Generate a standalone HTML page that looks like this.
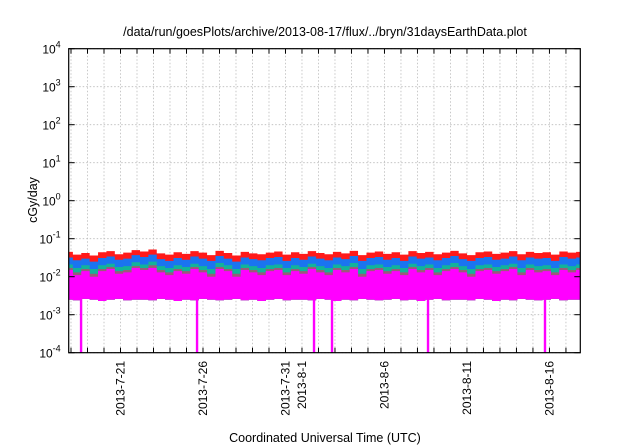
<!DOCTYPE html>
<html><head><meta charset="utf-8"><style>
body{margin:0;background:#fff;}
svg{display:block;font-family:"Liberation Sans",sans-serif;}
</style></head><body>
<svg id="chart" width="640" height="448"></svg>
<script>
// data (day offsets relative to 2013-7-21, half-day samples)
const startDay = -3.14, endDay = 27.87;
const redTop = [0.045,0.038,0.042,0.036,0.044,0.047,0.039,0.043,0.05,0.046,0.052,0.041,0.038,0.044,0.04,0.047,0.043,0.037,0.048,0.042,0.036,0.045,0.041,0.039,0.043,0.046,0.038,0.044,0.04,0.047,0.042,0.039,0.045,0.041,0.048,0.037,0.043,0.046,0.04,0.044,0.038,0.047,0.042,0.045,0.039,0.043,0.048,0.041,0.037,0.044,0.046,0.04,0.043,0.047,0.039,0.045,0.042,0.044,0.038,0.046,0.043,0.045];
const blueTop = [0.032,0.027,0.03,0.025,0.031,0.034,0.028,0.03,0.037,0.033,0.038,0.029,0.026,0.031,0.028,0.034,0.03,0.026,0.035,0.03,0.025,0.032,0.029,0.027,0.031,0.033,0.026,0.031,0.028,0.034,0.03,0.027,0.032,0.029,0.035,0.026,0.031,0.033,0.028,0.031,0.026,0.034,0.03,0.032,0.027,0.031,0.035,0.029,0.026,0.031,0.033,0.028,0.03,0.034,0.027,0.032,0.03,0.031,0.026,0.033,0.03,0.032];
const tealTop = [0.021,0.017,0.02,0.016,0.02,0.022,0.018,0.019,0.024,0.021,0.025,0.019,0.017,0.02,0.018,0.022,0.019,0.016,0.023,0.02,0.016,0.021,0.019,0.017,0.02,0.021,0.017,0.02,0.018,0.022,0.019,0.017,0.021,0.019,0.023,0.016,0.02,0.021,0.018,0.02,0.017,0.022,0.019,0.021,0.017,0.02,0.023,0.019,0.016,0.02,0.021,0.018,0.02,0.022,0.017,0.021,0.019,0.02,0.017,0.021,0.019,0.021];
const brownTop = [0.017,0.013,0.016,0.012,0.016,0.018,0.014,0.015,0.019,0.017,0.02,0.015,0.013,0.016,0.014,0.018,0.015,0.012,0.018,0.016,0.012,0.017,0.015,0.013,0.016,0.017,0.013,0.016,0.014,0.018,0.015,0.013,0.017,0.015,0.018,0.012,0.016,0.017,0.014,0.016,0.013,0.018,0.015,0.017,0.013,0.016,0.018,0.015,0.012,0.016,0.017,0.014,0.016,0.018,0.013,0.017,0.015,0.016,0.013,0.017,0.015,0.017];
const magentaTop = [0.015,0.011,0.014,0.01,0.014,0.016,0.012,0.013,0.017,0.015,0.017,0.013,0.011,0.014,0.012,0.016,0.013,0.01,0.016,0.014,0.01,0.015,0.013,0.011,0.014,0.015,0.011,0.014,0.012,0.016,0.013,0.011,0.015,0.013,0.016,0.01,0.014,0.015,0.012,0.014,0.011,0.016,0.013,0.015,0.011,0.014,0.016,0.013,0.01,0.014,0.015,0.012,0.014,0.016,0.011,0.015,0.013,0.014,0.011,0.015,0.013,0.015];
const magentaFloor = [0.0025,0.0024,0.0026,0.0025,0.0023,0.0025,0.0026,0.0024,0.0025,0.0025,0.0024,0.0026,0.0025,0.0023,0.0025,0.0024,0.0026,0.0025,0.0024,0.0025,0.0026,0.0024,0.0025,0.0023,0.0025,0.0026,0.0024,0.0025,0.0025,0.0024,0.0026,0.0025,0.0023,0.0025,0.0024,0.0026,0.0025,0.0024,0.0025,0.0026,0.0024,0.0025,0.0023,0.0025,0.0026,0.0024,0.0025,0.0025,0.0024,0.0026,0.0025,0.0023,0.0025,0.0024,0.0026,0.0025,0.0024,0.0025,0.0026,0.0024,0.0025,0.0025];
const dropoutDays = [-2.39,4.64,11.73,12.82,18.64,25.73];
const yTickExp = [-4,-3,-2,-1,0,1,2,3,4];
const xTickLabels = ["2013-7-21","2013-7-26","2013-7-31","2013-8-1","2013-8-6","2013-8-11","2013-8-16"];
const xTickDays = [0,5,10,11,16,21,26];

const L=68.7,R=580.3,T=48.7,B=352.7;
const xs=d=>L+(d-startDay)/(endDay-startDay)*(R-L);
const ys=v=>B-(Math.log10(v)+4)/8*(B-T);
const svg=document.getElementById('chart');
const NS='http://www.w3.org/2000/svg';
function mk(tag,attrs,parent){const e=document.createElementNS(NS,tag);for(const k in attrs)e.setAttribute(k,attrs[k]);(parent||svg).appendChild(e);return e;}

// grid
const grid=mk('g',{});


for(let d=Math.ceil(startDay);d<=endDay;d++){
  const x=xs(d);
  const gl=mk('line',{x1:x,x2:x,y1:T,y2:B,stroke:'#bbb','stroke-width':0.8,'stroke-dasharray':'1.5,2'},grid);
  
  
}
yTickExp.forEach(e=>{
  const y=ys(Math.pow(10,e));
  const gl=mk('line',{x1:L,x2:R,y1:y,y2:y,stroke:'#bbb','stroke-width':0.8,'stroke-dasharray':'1.5,2'},grid);
  
  
});

// series areas
const n=redTop.length;
const step=(endDay-startDay)/(n-1);
function area(top,bottomFn,color,name){
  let pts=[];
  for(let i=0;i<n;i++){const x0=xs(startDay+Math.max(0,i-0.5)*step),x1=xs(startDay+Math.min(n-1,i+0.5)*step);pts.push(x0+','+ys(top[i]),x1+','+ys(top[i]));}
  for(let i=n-1;i>=0;i--){const x0=xs(startDay+Math.max(0,i-0.5)*step),x1=xs(startDay+Math.min(n-1,i+0.5)*step);const b=bottomFn(i);pts.push(x1+','+ys(b),x0+','+ys(b));}
  const p=mk('polygon',{points:pts.join(' '),fill:color});
  
  
}
area(redTop,i=>magentaFloor[i],'#ff1a1a','series-red');
area(blueTop,i=>magentaFloor[i],'#1a74f0','series-blue');
area(tealTop,i=>magentaFloor[i],'#12b39a','series-teal');
area(brownTop,i=>magentaFloor[i],'#9a5a7a','series-brown');
area(magentaTop,i=>magentaFloor[i],'#ff00ff','series-magenta');
dropoutDays.forEach(d=>{
  const r=mk('rect',{x:xs(d)-1.2,y:ys(0.003),width:2.4,height:B-ys(0.003),fill:'#ff00ff'});
  
  
});

// frame
const fr=mk('rect',{x:L,y:T,width:R-L,height:B-T,fill:'none',stroke:'#000','stroke-width':1.2});


// x ticks
for(let d=Math.ceil(startDay);d<=endDay;d++){
  const x=xs(d);
  mk('line',{x1:x,x2:x,y1:B,y2:B-5,stroke:'#000','stroke-width':1});
  mk('line',{x1:x,x2:x,y1:T,y2:T+5,stroke:'#000','stroke-width':1});
}
xTickDays.forEach((d,i)=>{
  const x=xs(d)+4;
  const t=mk('text',{x:0,y:0,transform:`translate(${x},361) rotate(-90)`,'text-anchor':'end','font-size':12});
  t.textContent=xTickLabels[i];
  
  
});
// y ticks
yTickExp.forEach(e=>{
  const y=ys(Math.pow(10,e));
  mk('line',{x1:L,x2:L+6,y1:y,y2:y,stroke:'#000'});
  mk('line',{x1:R,x2:R-6,y1:y,y2:y,stroke:'#000'});
  const t=mk('text',{x:L-8,y:y+5,'text-anchor':'end','font-size':12});
  t.innerHTML='10<tspan dy="-6" font-size="9">'+e+'</tspan>';
  
  
});
</script>
<svg style="position:absolute;left:0;top:0" width="640" height="448">
<text x="325" y="36" text-anchor="middle" font-size="12.5" font-family="Liberation Sans,sans-serif">/data/run/goesPlots/archive/2013-08-17/flux/../bryn/31daysEarthData.plot</text>
<text x="325" y="442" text-anchor="middle" font-size="12.5" font-family="Liberation Sans,sans-serif">Coordinated Universal Time (UTC)</text>
<text transform="translate(37,200) rotate(-90)" text-anchor="middle" font-size="12.5" font-family="Liberation Sans,sans-serif">cGy/day</text>
</svg>
</body></html>
